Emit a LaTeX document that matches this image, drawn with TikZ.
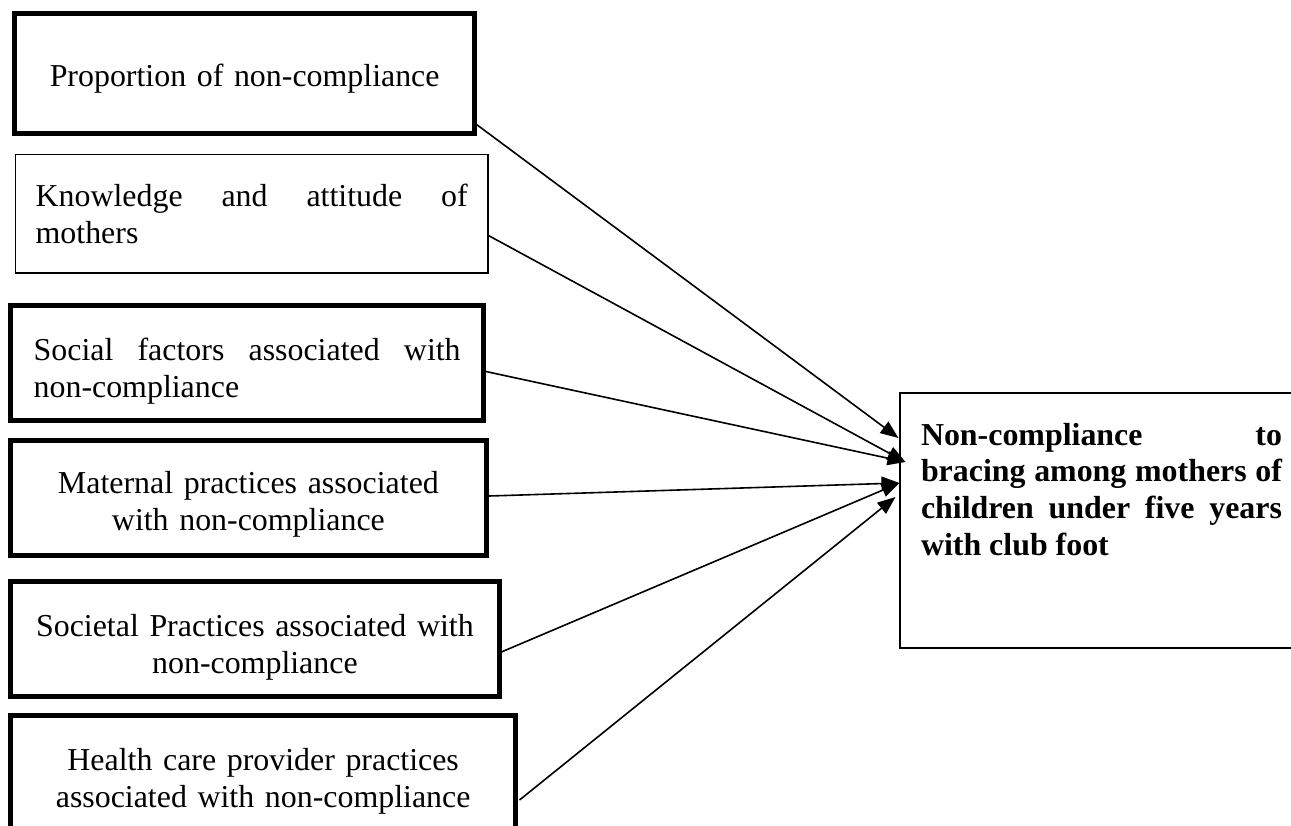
\documentclass[tikz,border=0pt]{standalone}
\usepackage{fontspec}
\setmainfont{Liberation Serif}
\usetikzlibrary{arrows.meta}
\hyphenpenalty=10000
\exhyphenpenalty=10000
\tolerance=10000
\tikzset{
  factor/.style={draw, line width=5pt, anchor=north west, outer sep=0pt,
    inner ysep=4pt, align=center, font=\fontsize{31.9}{37}\selectfont},
  outcome/.style={factor, line width=2pt, align=justify,
    font=\fontsize{31.9}{36.7}\selectfont\bfseries},
  link/.style={line width=1.6pt, -{Triangle[length=18pt,width=14pt]}}
}
\begin{document}
\begin{tikzpicture}[x=1pt,y=-1pt]
    \useasboundingbox (0,0) rectangle (1291,825);
    \node[factor, minimum width=460.3pt, minimum height=119.7pt, text width=420pt,
      text height=32.3pt, text depth=7pt] (prop) at (14.5,13.5)
      {Proportion of non-compliance};
    \node[factor, line width=1.7pt, align=justify, minimum width=472.3pt, minimum height=118.3pt,
      text width=432pt, text height=22pt, text depth=37.3pt] (know) at (15.5,154.5)
      {Knowledge and attitude of mothers};
    \node[factor, align=justify, minimum width=472.7pt, minimum height=115pt, text width=427pt,
      text height=22pt, text depth=28.6pt] (social) at (10.8,305.8)
      {Social factors associated with non-compliance};
    \node[factor, minimum width=475.2pt, minimum height=114.8pt, text width=435pt,
      text height=22pt, text depth=31pt] (maternal) at (10.8,440.2)
      {Maternal practices associated\\ with non-compliance};
    \node[factor, minimum width=488.2pt, minimum height=115pt, text width=448pt,
      text height=22pt, text depth=28pt] (societal) at (10.8,581.5)
      {Societal Practices associated with\\ non-compliance};
    \node[factor, minimum width=504.7pt, minimum height=115pt, text width=464.7pt,
      text height=22pt, text depth=28.6pt] (provider) at (10.8,715.8)
      {Health care provider practices\\ associated with non-compliance};
    \node[outcome, minimum width=404pt, minimum height=255pt, text width=361pt,
      text height=22pt, text depth=173pt] (result) at (899.5,393)
      {Non-compliance to bracing among mothers of children under five years with club foot};
    % arrows into the outcome box
    \draw[link] ([yshift=10pt]prop.south east) -- ([xshift=-1pt,yshift=82.5pt]result.west);
    \draw[link] ([yshift=-21.5pt]know.east) -- ([xshift=6pt,yshift=58.5pt]result.west);
    \draw[link] ([yshift=-7.7pt]social.east) -- ([xshift=6pt,yshift=58.5pt]result.west);
    \draw[link] ([yshift=1.5pt]maternal.east) -- ([yshift=37.5pt]result.west);
    \draw[link] ([yshift=-14pt]societal.east) -- ([yshift=37.5pt]result.west);
    \draw[link] ([xshift=4pt,yshift=-26.7pt]provider.east) -- ([xshift=-4pt,yshift=23.5pt]result.west);
\end{tikzpicture}
\end{document}
